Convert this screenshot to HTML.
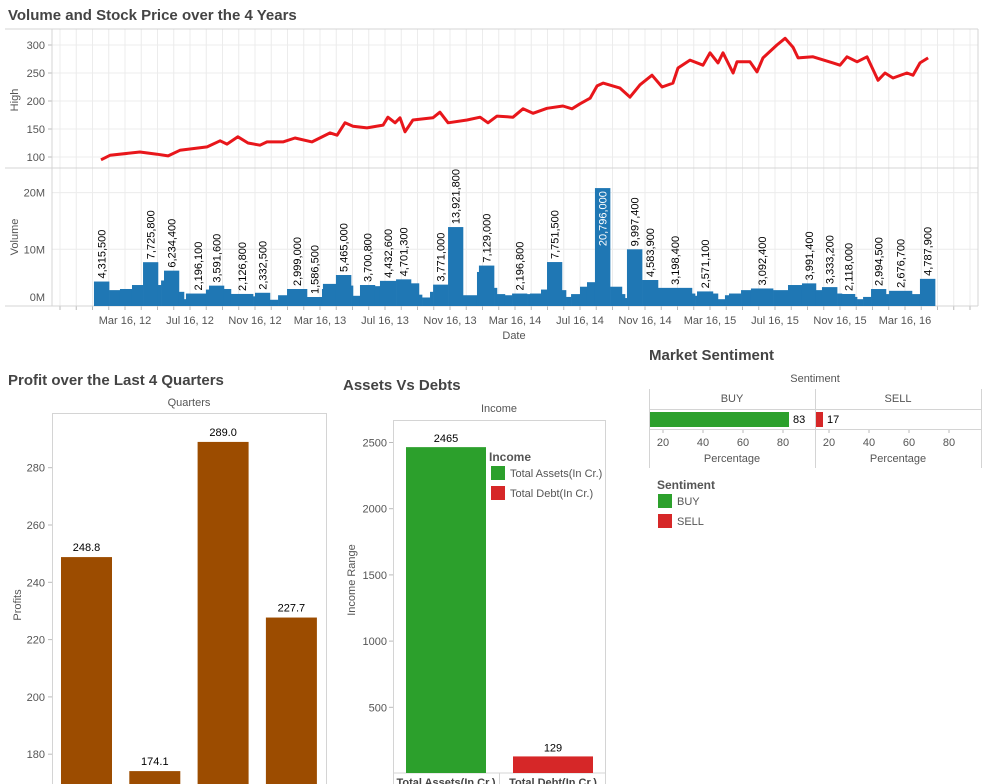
<!DOCTYPE html>
<html><head><meta charset="utf-8"><style>
body{margin:0;background:#fff;}
svg{display:block;font-family:"Liberation Sans",sans-serif;}
.t{font-weight:bold;font-size:15px;fill:#444;}
.ax{font-size:11px;fill:#555;}
.g{stroke:#ececec;stroke-width:1;fill:none;}
.f{stroke:#d4d4d4;stroke-width:1;fill:none;}
</style></head><body>
<svg id="s" width="984" height="784" viewBox="0 0 984 784">
<text class="t" x="8" y="20">Volume and Stock Price over the 4 Years</text>
<text class="t" x="8" y="385">Profit over the Last 4 Quarters</text>
<text class="t" x="343" y="390">Assets Vs Debts</text>
<text class="t" x="649" y="360">Market Sentiment</text>
</svg>
<script>
// ===== Stock data (time in months since 2012-01-01) =====
const priceMonths=[1.02,1.58,3.42,4.47,5.15,5.88,7.55,8.35,8.78,9.45,10.07,10.81,11.24,12.22,12.96,14.01,15.12,15.55,16.04,16.53,17.39,18.38,18.68,19.12,19.42,19.73,20.22,21.45,21.88,22.38,23.55,24.35,24.84,25.39,26.38,26.99,27.61,28.47,29.45,30.01,30.50,31.12,31.55,31.92,32.96,33.58,34.19,34.93,35.55,36.22,36.53,37.27,38.07,38.50,38.99,39.30,39.92,40.16,40.96,41.39,41.76,42.62,43.12,43.61,43.92,44.84,46.07,46.50,46.93,47.55,48.16,48.84,49.27,49.76,50.62,50.99,51.42,51.92];
const priceHigh=[95,103,109,105,102,112,118,129,123,136,125,121,127,127,134,127,143,139,161,155,152,157,171,161,170,145,166,170,180,161,166,171,161,173,171,186,178,187,191,186,195,205,227,232,223,207,229,246,225,232,259,273,264,286,268,286,250,270,270,252,277,300,312,296,277,279,268,264,279,270,279,237,250,241,250,246,268,277];
const volEdges=[0.59,1.52,2.19,2.93,3.61,4.53,4.72,4.90,5.82,6.13,6.25,6.50,7.48,7.67,8.59,9.02,10.38,10.50,11.42,11.92,12.47,13.70,14.62,14.68,15.48,16.41,16.53,16.96,17.88,18.19,19.18,20.10,20.59,20.78,21.27,21.46,22.38,23.30,24.16,24.28,25.21,25.39,25.88,26.32,27.24,27.42,28.10,28.47,29.39,29.64,29.95,30.50,30.93,31.42,32.35,33.08,33.27,33.39,34.32,35.30,37.39,37.58,37.70,38.68,38.99,39.42,39.67,40.41,41.02,42.38,43.30,44.16,45.02,45.39,46.32,46.62,47.42,47.55,47.92,48.41,49.33,49.52,50.93,51.42,52.35];
const volume=[4315500,2800000,3000000,3700000,7725800,3700000,4500000,6234400,2500000,1200000,2200000,2196100,2900000,3591600,3000000,2126800,1700000,2332500,1100000,1900000,2999000,1586500,3000000,3900000,5465000,3600000,1800000,3700800,3500000,4432600,4701300,4000000,2000000,1500000,2500000,3771000,13921800,1900000,6000000,7129000,3200000,2100000,1900000,2196800,2100000,2200000,2900000,7751500,2800000,1600000,2100000,3400000,4200000,20796000,3400000,2100000,1400000,9997400,4583900,3198400,2200000,1800000,2571100,2200000,1200000,1900000,2200000,2800000,3092400,2800000,3700000,3991400,2800000,3333200,2200000,2118000,1600000,1200000,1600000,2994500,2100000,2676700,2100000,4787900];
const volLabeled=[1,0,0,0,1,0,0,1,0,0,0,1,0,1,0,1,0,1,0,0,1,1,0,0,1,0,0,1,0,1,1,0,0,0,0,1,1,0,0,1,0,0,0,1,0,0,0,1,0,0,0,0,0,1,0,0,0,1,1,1,0,0,1,0,0,0,0,0,1,0,0,1,0,1,0,1,0,0,0,1,0,1,0,1];
const dateTickMonths=[2.5,6.5,10.5,14.5,18.5,22.5,26.5,30.5,34.5,38.5,42.5,46.5,50.5];
const dateTickLabels=["Mar 16, 12","Jul 16, 12","Nov 16, 12","Mar 16, 13","Jul 16, 13","Nov 16, 13","Mar 16, 14","Jul 16, 14","Nov 16, 14","Mar 16, 15","Jul 16, 15","Nov 16, 15","Mar 16, 16"];
const priceTicks=[100,150,200,250,300];
const volTicks=[0,10000000,20000000];
const volTickLabels=["0M","10M","20M"];
// ===== Profit =====
const quarters=["Q1","Q2","Q3","Q4"];
const profits=[248.8,174.1,289.0,227.7];
const profitTicks=[180,200,220,240,260,280];
// ===== Assets =====
const incomeCats=["Total Assets(In Cr.)","Total Debt(In Cr.)"];
const incomeVals=[2465,129];
const incomeColors=["#2ca02c","#d62728"];
const incomeTicks=[500,1000,1500,2000,2500];
// ===== Sentiment =====
const sentCats=["BUY","SELL"];
const sentVals=[83,17];
const sentColors=["#2ca02c","#d62728"];
const sentTicks=[20,40,60,80];

const S=document.getElementById('s');const NS='http://www.w3.org/2000/svg';
function mk(tag,attrs,txt){const e=document.createElementNS(NS,tag);for(const k in attrs)e.setAttribute(k,attrs[k]);if(txt!==undefined)e.textContent=txt;S.appendChild(e);return e;}

// scales
const xT=t=>84.375+16.25*t;
const yP=v=>157-(v-100)*28/50;
const yV=v=>306-v*56.7/10000000;
const yProfit=v=>467.7+(280-v)*2.865;
const yInc=v=>773.5-v*66.2/500;

// stock frame & grid
for(let k=-2;k<56;k++){const x=xT(k+0.5);if(x>52&&x<978){
 let l=mk('line',{x1:x,y1:29,x2:x,y2:306,class:'g'});
 
 let tk=mk('line',{x1:x,y1:306,x2:x,y2:310,stroke:'#bbb'});
 }}
priceTicks.forEach(v=>{const y=yP(v);
 let l=mk('line',{x1:52,y1:y,x2:978,y2:y,class:'g'});
 mk('line',{x1:48,y1:y,x2:52,y2:y,stroke:'#bbb'});
 let t=mk('text',{x:45,y:y+4,'text-anchor':'end',class:'ax'},v);});
volTicks.forEach((v,i)=>{const y=yV(v);
 let l=mk('line',{x1:52,y1:y,x2:978,y2:y,class:'g'});
 let t=mk('text',{x:45,y:(i==0?y-5:y+4),'text-anchor':'end',class:'ax'},volTickLabels[i]);});
mk('line',{x1:5,y1:29,x2:978,y2:29,class:'f'});
mk('line',{x1:5,y1:168,x2:978,y2:168,class:'f'});
mk('line',{x1:5,y1:306,x2:978,y2:306,class:'f'});
mk('line',{x1:52,y1:29,x2:52,y2:306,class:'f'});
mk('line',{x1:978,y1:29,x2:978,y2:306,class:'f'});
let yt1=mk('text',{x:0,y:0,transform:'translate(18,100) rotate(-90)','text-anchor':'middle',class:'ax'},'High');

let yt2=mk('text',{x:0,y:0,transform:'translate(18,237) rotate(-90)','text-anchor':'middle',class:'ax'},'Volume');

dateTickMonths.forEach((m,i)=>{let t=mk('text',{x:xT(m),y:324,'text-anchor':'middle',class:'ax'},dateTickLabels[i]);
 });
let dt=mk('text',{x:514,y:339,'text-anchor':'middle',class:'ax'},'Date');


// volume bars
volume.forEach((v,i)=>{const x0=xT(volEdges[i]),x1=xT(volEdges[i+1]),y=yV(v);
 let r=mk('rect',{x:x0,y:y,width:x1-x0+0.3,height:306-y,fill:'#1f77b4'});
 });
volume.forEach((v,i)=>{if(!volLabeled[i])return;const xc=(xT(volEdges[i])+xT(volEdges[i+1]))/2,y=yV(v);
 const inside=v>19000000;
 let t=mk('text',{x:0,y:0,transform:`translate(${xc+4},${inside?y+3:y-3}) rotate(-90)`,'text-anchor':inside?'end':'start','font-size':'11px',fill:inside?'#fff':'#000'},v.toLocaleString('en-US'));
 });

// price line
let d=priceMonths.map((m,i)=>(i?'L':'M')+xT(m).toFixed(1)+','+yP(priceHigh[i]).toFixed(1)).join('');
let pl=mk('path',{d:d,fill:'none',stroke:'#e8161b','stroke-width':3,'stroke-linejoin':'round'});


// ===== Profit chart =====
let q=mk('text',{x:189,y:406,'text-anchor':'middle',class:'ax'},'Quarters');

mk('rect',{x:52.5,y:413.5,width:274,height:380,class:'f'});
profitTicks.forEach(v=>{const y=yProfit(v);mk('line',{x1:48,y1:y,x2:52,y2:y,stroke:'#bbb'});
 let t=mk('text',{x:45,y:y+4,'text-anchor':'end',class:'ax'},v);});
let pa=mk('text',{x:0,y:0,transform:'translate(21,605) rotate(-90)','text-anchor':'middle',class:'ax'},'Profits');

profits.forEach((v,i)=>{const x=61+i*68.3,y=yProfit(v);
 let r=mk('rect',{x:x,y:y,width:51,height:800-y,fill:'#9c4c00'});
 let t=mk('text',{x:x+25.5,y:y-6,'text-anchor':'middle','font-size':'11px',fill:'#000'},v.toFixed(1));});

// ===== Assets chart =====
let inc=mk('text',{x:499,y:412,'text-anchor':'middle',class:'ax'},'Income');

mk('rect',{x:393.5,y:420.5,width:212,height:380,class:'f'});
mk('line',{x1:393,y1:773,x2:606,y2:773,class:'f'});
mk('line',{x1:499.5,y1:773,x2:499.5,y2:784,class:'f'});
incomeTicks.forEach(v=>{const y=yInc(v);mk('line',{x1:389,y1:y,x2:393,y2:y,stroke:'#bbb'});
 let t=mk('text',{x:387,y:y+4,'text-anchor':'end',class:'ax'},v);});
let ia=mk('text',{x:0,y:0,transform:'translate(355,580) rotate(-90)','text-anchor':'middle',class:'ax'},'Income Range');

incomeVals.forEach((v,i)=>{const x=406+i*107,y=yInc(v);
 let r=mk('rect',{x:x,y:y,width:80,height:773-y,fill:incomeColors[i]});
 let t=mk('text',{x:x+40,y:y-5,'text-anchor':'middle','font-size':'11px',fill:'#000'},v);
 let c=mk('text',{x:x+40,y:786,'text-anchor':'middle','font-size':'11px','font-weight':'bold',fill:'#444'},incomeCats[i]);});
let il=mk('text',{x:489,y:461,'font-size':'12px','font-weight':'bold',fill:'#555'},'Income');

incomeCats.forEach((c,i)=>{let r=mk('rect',{x:491,y:466+i*20,width:14,height:14,fill:incomeColors[i]});
 let t=mk('text',{x:510,y:477+i*20,'font-size':'11px',fill:'#555'},c);});

// ===== Sentiment =====
let sh=mk('text',{x:815,y:382,'text-anchor':'middle',class:'ax'},'Sentiment');

[649.5,815.5,981.5].forEach(x=>mk('line',{x1:x,y1:389,x2:x,y2:468,class:'f'}));
mk('line',{x1:649,y1:409.5,x2:981,y2:409.5,class:'f'});
mk('line',{x1:649,y1:429.5,x2:981,y2:429.5,class:'f'});
sentCats.forEach((c,i)=>{const base=650+i*166,zero=623+i*166,sx=v=>zero+2*v;
 let h=mk('text',{x:base+82,y:402,'text-anchor':'middle',class:'ax'},c);
 let r=mk('rect',{x:base,y:412,width:sx(sentVals[i])-base,height:15,fill:sentColors[i]});
 let l=mk('text',{x:sx(sentVals[i])+4,y:423,'font-size':'11px',fill:'#000'},sentVals[i]);
 sentTicks.forEach(v=>{mk('line',{x1:sx(v),y1:430,x2:sx(v),y2:433,stroke:'#bbb'});
  let t=mk('text',{x:sx(v),y:446,'text-anchor':'middle',class:'ax'},v);});
 let p=mk('text',{x:base+82,y:462,'text-anchor':'middle',class:'ax'},'Percentage');});
let sl=mk('text',{x:657,y:489,'font-size':'12px','font-weight':'bold',fill:'#555'},'Sentiment');

sentCats.forEach((c,i)=>{let r=mk('rect',{x:658,y:494+i*20,width:14,height:14,fill:sentColors[i]});
 let t=mk('text',{x:677,y:505+i*20,'font-size':'11px',fill:'#555'},c);});
</script>
</body></html>
